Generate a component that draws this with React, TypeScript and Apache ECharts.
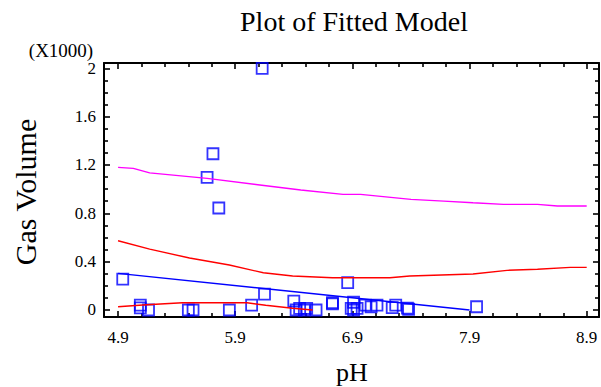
import React, { useEffect, useRef } from "react";
import * as echarts from "echarts";

// Observed points (pH, gas volume)
const obsPH = [4.94, 5.09, 5.09, 5.16, 5.5, 5.54, 5.85, 6.04, 6.15, 5.76, 5.66, 5.71, 6.13, 6.4, 6.42, 6.45, 6.49, 6.51, 6.59, 6.73, 6.73, 6.86, 6.89, 6.91, 6.94, 6.91, 7.01, 7.06, 7.11, 7.24, 7.27, 7.38, 7.37, 7.96];
const obsGas = [256, 41, 17, 0, 0, 0, 0, 41, 132, 844, 1097, 1293, 2000, 74, 0, 14, 0, 14, 0, 50, 60, 226, 14, 0, 14, 64, 41, 27, 41, 19, 41, 6, 15, 27];

// Fitted line
const fitPH = [4.9, 7.9];
const fitGas = [303, 0];

// Upper confidence limit (red)
const upConfPH = [4.9, 5.17, 5.51, 5.85, 6.14, 6.39, 6.73, 7.22, 7.39, 7.93, 8.22, 8.48, 8.76, 8.9];
const upConfGas = [573, 504, 430, 372, 308, 281, 267, 267, 281, 298, 328, 337, 353, 353];

// Lower confidence limit (red)
const loConfPH = [4.9, 5.11, 5.45, 6.0, 6.16, 6.39, 6.56];
const loConfGas = [27, 41, 60, 60, 39, 14, 0];

// Upper prediction limit (magenta)
const upPredPH = [4.9, 5.03, 5.17, 5.66, 6.11, 6.46, 6.82, 6.97, 7.4, 7.68, 7.93, 8.19, 8.48, 8.65, 8.9];
const upPredGas = [1180, 1172, 1135, 1089, 1034, 993, 957, 957, 915, 901, 887, 874, 874, 860, 860];

// Ticks
const xMajor = [4.9, 5.9, 6.9, 7.9, 8.9];
const xMinor = [5.1, 5.3, 5.5, 5.7, 6.1, 6.3, 6.5, 6.7, 7.1, 7.3, 7.5, 7.7, 8.1, 8.3, 8.5, 8.7];
const yMajor = [0, 400, 800, 1200, 1600, 2000];
const yMinor = [100, 200, 300, 500, 600, 700, 900, 1000, 1100, 1300, 1400, 1500, 1700, 1800, 1900];

const FONT = "Liberation Serif";
const X_MIN = 4.78;
const X_MAX = 9.005;
const Y_MIN = -58;
const Y_MAX = 2044;

const zip = (a: number[], b: number[]) => a.map((v, i) => [v, b[i]]);

export default function App() {
  const ref = useRef<HTMLDivElement>(null);
  useEffect(() => {
    if (!ref.current) return;
    const chart = echarts.init(ref.current, undefined, { renderer: "svg" });
    const axisLine = (show: boolean) => ({ show, onZero: false, lineStyle: { color: "#000", width: 2 } });
    const xBase = (position: string, show: boolean) => ({
      type: "value",
      min: X_MIN,
      max: X_MAX,
      position,
      splitLine: { show: false },
      axisLine: axisLine(show),
    });
    const yBase = (position: string, show: boolean) => ({
      type: "value",
      min: Y_MIN,
      max: Y_MAX,
      position,
      splitLine: { show: false },
      axisLine: axisLine(show),
    });
    const majTick = (vals: number[]) => ({ show: true, inside: true, length: 6, customValues: vals, lineStyle: { color: "#000", width: 1.6 } });
    const minTick = (vals: number[]) => ({ show: true, inside: true, length: 4, customValues: vals, lineStyle: { color: "#000", width: 1.6 } });

    chart.setOption({
      animation: false,
      grid: { left: 104, right: 2, top: 63, bottom: 70, containLabel: false },
      xAxis: [
        {
          ...xBase("bottom", true),
          axisTick: majTick(xMajor),
          axisLabel: {
            customValues: xMajor,
            formatter: (v: number) => v.toFixed(1),
            fontFamily: FONT,
            fontSize: 17,
            color: "#000",
            margin: 12,
          },
        },
        { ...xBase("bottom", false), axisTick: minTick(xMinor), axisLabel: { show: false } },
        { ...xBase("top", true), axisTick: majTick(xMajor), axisLabel: { show: false } },
        { ...xBase("top", false), axisTick: minTick(xMinor), axisLabel: { show: false } },
      ],
      yAxis: [
        {
          ...yBase("left", true),
          axisTick: majTick(yMajor),
          axisLabel: {
            customValues: yMajor,
            formatter: (v: number) => String(v / 1000),
            fontFamily: FONT,
            fontSize: 17,
            color: "#000",
            margin: 8,
          },
        },
        { ...yBase("left", false), axisTick: minTick(yMinor), axisLabel: { show: false } },
        { ...yBase("right", true), axisTick: majTick(yMajor), axisLabel: { show: false } },
        { ...yBase("right", false), axisTick: minTick(yMinor), axisLabel: { show: false } },
      ],
      graphic: [
        {
          type: "text",
          x: 354,
          y: 21,
          style: { text: "Plot of Fitted Model", fontFamily: FONT, fontSize: 28, fill: "#000", textAlign: "center", textVerticalAlign: "middle" },
        },
        {
          type: "text",
          x: 61,
          y: 50,
          style: { text: "(X1000)", fontFamily: FONT, fontSize: 19, fill: "#000", textAlign: "center", textVerticalAlign: "middle" },
        },
        {
          type: "text",
          x: 25,
          y: 192,
          rotation: Math.PI / 2,
          style: { text: "Gas Volume", fontFamily: FONT, fontSize: 30, fill: "#000", textAlign: "center", textVerticalAlign: "middle" },
        },
        {
          type: "text",
          x: 352,
          y: 372,
          style: { text: "pH", fontFamily: FONT, fontSize: 26, fill: "#000", textAlign: "center", textVerticalAlign: "middle" },
        },
      ],
      series: [
        {
          type: "line",
          data: zip(upPredPH, upPredGas),
          showSymbol: false,
          lineStyle: { color: "#ff00ff", width: 1.4 },
        },
        {
          type: "line",
          data: zip(upConfPH, upConfGas),
          showSymbol: false,
          lineStyle: { color: "#ff0000", width: 1.4 },
        },
        {
          type: "line",
          data: zip(loConfPH, loConfGas),
          showSymbol: false,
          lineStyle: { color: "#ff0000", width: 1.4 },
        },
        {
          type: "line",
          data: zip(fitPH, fitGas),
          showSymbol: false,
          lineStyle: { color: "#0000ff", width: 1.4 },
        },
        {
          type: "scatter",
          data: zip(obsPH, obsGas),
          symbol: "rect",
          symbolSize: 11,
          itemStyle: { color: "rgba(0,0,0,0)", borderColor: "#0000ff", borderWidth: 1.8 },
        },
      ],
    });
    return () => chart.dispose();
  }, []);
  return <div ref={ref} style={{ width: 601, height: 387, position: "absolute", left: 0, top: 0 }} />;
}
